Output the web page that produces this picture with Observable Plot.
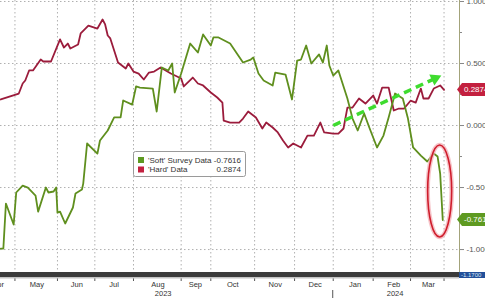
<!DOCTYPE html>
<html><head><meta charset="utf-8">
<script src="https://cdn.jsdelivr.net/npm/d3@7"></script>
<script src="https://cdn.jsdelivr.net/npm/@observablehq/plot@0.6"></script>
<style>html,body{margin:0;padding:0;background:#fff;} svg{display:block}</style>
</head><body><div id="chart"></div>
<script>
const hardDates = ["2023-04-18","2023-05-02","2023-05-05","2023-05-07","2023-05-10","2023-05-13","2023-05-19","2023-05-21","2023-05-27","2023-06-03","2023-06-06","2023-06-09","2023-06-11","2023-06-14","2023-06-17","2023-06-19","2023-06-25","2023-07-02","2023-07-06","2023-07-08","2023-07-10","2023-07-12","2023-07-18","2023-07-24","2023-07-26","2023-07-30","2023-08-03","2023-08-07","2023-08-11","2023-08-15","2023-08-20","2023-08-28","2023-09-05","2023-09-07","2023-09-14","2023-09-18","2023-09-22","2023-09-28","2023-10-03","2023-10-07","2023-10-08","2023-10-13","2023-10-20","2023-10-23","2023-10-27","2023-11-02","2023-11-07","2023-11-10","2023-11-15","2023-11-19","2023-11-23","2023-11-27","2023-12-01","2023-12-07","2023-12-12","2023-12-17","2023-12-22","2023-12-25","2024-01-01","2024-01-05","2024-01-09","2024-01-12","2024-01-16","2024-01-21","2024-01-26","2024-02-01","2024-02-04","2024-02-08","2024-02-13","2024-02-17","2024-02-21","2024-02-25","2024-03-01","2024-03-05","2024-03-09","2024-03-11","2024-03-15","2024-03-19","2024-03-24","2024-03-27"];
const hardValues = [0.21,0.258,0.339,0.363,0.444,0.444,0.532,0.516,0.516,0.694,0.629,0.661,0.621,0.637,0.653,0.742,0.806,0.782,0.855,0.815,0.726,0.702,0.508,0.46,0.5,0.435,0.419,0.371,0.427,0.435,0.468,0.419,0.379,0.315,0.387,0.339,0.323,0.266,0.226,0.185,0.04,0.024,0.024,0.056,0.113,0.065,-0.024,0.024,-0.016,-0.056,-0.121,-0.177,-0.145,-0.177,-0.081,-0.081,0.024,-0.056,-0.065,-0.065,-0.024,0.145,0.145,0.218,0.177,0.242,0.177,0.306,0.306,0.121,0.137,0.137,0.2,0.185,0.298,0.218,0.218,0.298,0.323,0.2874];

const softDates = ["2023-04-18","2023-04-20","2023-04-22","2023-04-28","2023-04-30","2023-05-05","2023-05-09","2023-05-15","2023-05-17","2023-05-23","2023-05-25","2023-05-29","2023-05-31","2023-06-01","2023-06-03","2023-06-07","2023-06-13","2023-06-15","2023-06-20","2023-06-21","2023-06-24","2023-07-02","2023-07-04","2023-07-10","2023-07-15","2023-07-20","2023-07-22","2023-07-29","2023-08-01","2023-08-04","2023-08-14","2023-08-17","2023-08-21","2023-08-26","2023-08-29","2023-08-31","2023-09-05","2023-09-12","2023-09-18","2023-09-22","2023-09-28","2023-09-30","2023-10-04","2023-10-13","2023-10-23","2023-10-29","2023-10-31","2023-11-04","2023-11-08","2023-11-15","2023-11-17","2023-11-25","2023-11-30","2023-12-04","2023-12-07","2023-12-11","2023-12-15","2023-12-21","2023-12-24","2023-12-27","2023-12-29","2024-01-01","2024-01-05","2024-01-12","2024-01-16","2024-01-20","2024-01-25","2024-01-29","2024-02-04","2024-02-09","2024-02-13","2024-02-18","2024-02-24","2024-02-28","2024-03-03","2024-03-09","2024-03-14","2024-03-19","2024-03-22","2024-03-24","2024-03-26"];
const softValues = [-0.992,-0.992,-0.629,-0.798,-0.54,-0.484,-0.5,-0.565,-0.694,-0.5,-0.54,-0.532,-0.5,-0.702,-0.694,-0.79,-0.661,-0.548,-0.516,-0.468,-0.145,-0.226,-0.121,-0.04,0.065,0.065,0.202,0.169,0.315,0.306,0.298,0.113,0.468,0.444,0.5,0.266,0.419,0.661,0.589,0.734,0.645,0.71,0.71,0.661,0.508,0.532,0.548,0.419,0.363,0.323,0.427,0.411,0.21,0.524,0.532,0.645,0.5,0.573,0.508,0.645,0.484,0.403,0.444,0.218,0.056,-0.04,0.097,-0.016,-0.177,-0.081,0.065,0.258,0.218,0.056,-0.177,-0.242,-0.29,-0.226,-0.25,-0.387,-0.7616];

const yTicks = [-1, -0.5, 0, 0.5, 1];
const yMinorTicks = [-0.75, -0.25, 0.25, 0.75];
const gridDates = ["2023-04-29","2023-06-01","2023-06-30","2023-07-30","2023-09-05","2023-09-28","2023-11-01","2023-12-02","2024-01-01","2024-02-01","2024-03-01","2024-03-27"];
const monthLabels = ["Apr","May","Jun","Jul","Aug","Sep","Oct","Nov","Dec","Jan","Feb","Mar"];
const monthLabelDates = ["2023-04-16","2023-05-16","2023-06-16","2023-07-15","2023-08-18","2023-09-16","2023-10-15","2023-11-17","2023-12-18","2024-01-18","2024-02-17","2024-03-15"];
const yearLabels = ["2023","2024"];
const yearLabelDates = ["2023-08-22","2024-02-18"];
const yearSplitDate = "2024-01-01";

const seriesNames = ["'Soft' Survey Data", "'Hard' Data"];
const lastValues = [-0.7616, 0.2874];
const lineColors = ["#5f8f1e", "#9b1c3c"];
const tagColors = ["#5e9a21", "#c3203f"];
const bottomTag = { value: -1.17, text: "-1.1700" };

const trendArrow = { start: ["2024-01-01", 0.0], head: ["2024-03-20", 0.379] };
const circleCenter = ["2024-03-24", -0.532];

const FONT = "'Liberation Sans', Arial, sans-serif";
const parse = s => new Date(s + "T00:00:00Z");
const hard = hardDates.map((d, i) => ({ date: parse(d), value: hardValues[i] }));
const soft = softDates.map((d, i) => ({ date: parse(d), value: softValues[i] }));

function barMark(index, scales, values, dims) {
  const { width, height, marginRight, marginBottom } = dims;
  const x1 = width - marginRight, yb = height - marginBottom;
  const g = d3.create("svg:g").attr("text-anchor", "start");
  g.append("rect").attr("x", 0).attr("y", yb).attr("width", x1).attr("height", 5).attr("fill", "#3b3b3b");
  g.append("rect").attr("x", 0).attr("y", yb + 5).attr("width", x1).attr("height", 1.5).attr("fill", "#c4c4c4");
  const xs = scales.x(parse(yearSplitDate));
  g.append("line").attr("x1", xs).attr("x2", xs).attr("y1", yb + 18).attr("y2", height).attr("stroke", "#555").attr("stroke-width", 1);
  g.append("line").attr("x1", x1 + 0.5).attr("x2", x1 + 0.5).attr("y1", 0).attr("y2", yb).attr("stroke", "#a3a37a").attr("stroke-width", 1);
  g.append("rect").attr("x", x1).attr("y", yb).attr("width", width - x1).attr("height", 6).attr("fill", "#23509a");
  g.append("text").attr("x", x1 + 2).attr("y", yb + 3).attr("dy", "0.35em").attr("fill", "#dfe8f5")
    .attr("font-family", FONT).attr("font-size", 6).text(bottomTag.text);
  return g.node();
}

function ellipseMark(index, scales) {
  const cx = scales.x(parse(circleCenter[0])), cy = scales.y(circleCenter[1]);
  const g = d3.create("svg:g");
  g.append("ellipse").attr("cx", cx).attr("cy", cy).attr("rx", 12).attr("ry", 46)
    .attr("fill", "none").attr("stroke", "#f2a9b0").attr("stroke-width", 4.5).attr("opacity", 0.7);
  g.append("ellipse").attr("cx", cx).attr("cy", cy).attr("rx", 12).attr("ry", 46)
    .attr("fill", "none").attr("stroke", "#cf1d2c").attr("stroke-width", 1.6);
  return g.node();
}

function legendMark() {
  const g = d3.create("svg:g").attr("font-family", FONT).attr("font-size", 8).attr("fill", "#333").attr("text-anchor", "start");
  g.append("rect").attr("x", 133.5).attr("y", 151.5).attr("width", 112).attr("height", 25).attr("rx", 2)
    .attr("fill", "#fff").attr("stroke", "#9a9a9a");
  seriesNames.forEach((name, i) => {
    const cy = 160 + i * 9.5;
    g.append("rect").attr("x", 138).attr("y", cy - 3).attr("width", 6).attr("height", 6).attr("fill", tagColors[i]);
    g.append("text").attr("x", 148).attr("y", cy).attr("dy", "0.35em").text(name);
    g.append("text").attr("x", 241).attr("y", cy).attr("dy", "0.35em").attr("text-anchor", "end").text(lastValues[i].toFixed(4));
  });
  return g.node();
}

function tagMark(index, scales, values, dims) {
  const { width, marginRight } = dims;
  const x0 = width - marginRight;
  const g = d3.create("svg:g").attr("font-family", FONT).attr("font-size", 8).attr("text-anchor", "start");
  lastValues.forEach((v, i) => {
    const cy = scales.y(v);
    g.append("polygon")
      .attr("points", `${x0 - 2},${cy} ${x0 + 3},${cy - 6.5} ${width + 5},${cy - 6.5} ${width + 5},${cy + 6.5} ${x0 + 3},${cy + 6.5}`)
      .attr("fill", tagColors[i]);
    g.append("text").attr("x", x0 + 5).attr("y", cy).attr("dy", "0.35em").attr("fill", "#fff").text(v.toFixed(4));
  });
  return g.node();
}

const chart = Plot.plot({
  width: 485, height: 298,
  marginTop: 0, marginBottom: 26, marginLeft: 0, marginRight: 26,
  style: { fontFamily: FONT, fontSize: "8px", background: "#fff" },
  x: { type: "utc", domain: [new Date("2023-04-17T19:00:00Z"), new Date("2024-04-08T00:00:00Z")], label: null },
  y: { domain: [-1.185, 1.008], label: null },
  marks: [
    Plot.ruleY(yTicks, { stroke: "#b0b0b0", strokeDasharray: "1.5,2.5" }),
    Plot.ruleX(gridDates.map(parse), { stroke: "#b0b0b0", strokeDasharray: "1.5,2.5" }),
    Plot.axisX({ ticks: gridDates.map(parse), tickSize: 9, tickFormat: () => "", stroke: "#555", label: null }),
    barMark,
    Plot.axisY({ anchor: "right", ticks: yTicks, tickSize: 4, tickPadding: 3, tickFormat: d => d.toFixed(4), fill: "#555", stroke: "#888", fontSize: 8, label: null }),
    Plot.axisY({ anchor: "right", ticks: yMinorTicks, tickSize: 2, tickFormat: () => "", stroke: "#888", label: null }),
    Plot.text(monthLabels, { x: monthLabelDates.map(parse), text: d => d, frameAnchor: "bottom", dy: 14, fill: "#333", fontSize: 7.5 }),
    Plot.text(yearLabels, { x: yearLabelDates.map(parse), text: d => d, frameAnchor: "bottom", dy: 23, fill: "#333", fontSize: 7.5 }),
    Plot.line(hard, { x: "date", y: "value", stroke: lineColors[1], strokeWidth: 1.8 }),
    Plot.line(soft, { x: "date", y: "value", stroke: lineColors[0], strokeWidth: 1.8 }),
    Plot.link([trendArrow], {
      x1: d => parse(d.start[0]), y1: d => d.start[1], x2: d => parse(d.head[0]), y2: d => d.head[1],
      stroke: "#3fdc2f", strokeWidth: 3.5, strokeDasharray: "8,5"
    }),
    Plot.dot([trendArrow], { x: d => parse(d.head[0]), y: d => d.head[1], symbol: "triangle", r: 4.5, fill: "#3fdc2f", rotate: 65 }),
    ellipseMark,
    legendMark,
    tagMark
  ]
});
document.getElementById("chart").append(chart);
</script>
</body></html>
